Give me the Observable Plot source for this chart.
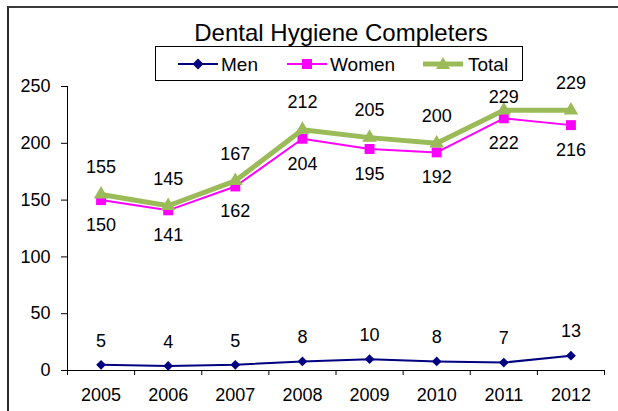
<!DOCTYPE html>
<html><head><meta charset="utf-8">
<script src="https://cdn.jsdelivr.net/npm/d3@7"></script>
<script src="https://cdn.jsdelivr.net/npm/@observablehq/plot@0.6"></script>
<style>
body{margin:0;overflow:hidden;background:#fff;font-family:"Liberation Sans",Arial,sans-serif;}
#wrap{position:relative;width:618px;height:411px;overflow:hidden;}
#border{position:absolute;left:7px;top:6px;width:700px;height:500px;border-left:2px solid #2a2a2a;border-top:2px solid #3a3a3a;box-sizing:border-box;}
#title{position:absolute;left:0;top:0;}
#legend{position:absolute;left:155px;top:46px;width:368px;height:35px;border:1px solid #000;box-sizing:border-box;background:#fff;}
#plot{position:absolute;left:0;top:0;}
</style>
</head><body>
<div id="wrap">
<div id="plot"></div>
<div id="border"></div>
<svg id="title" width="618" height="50"><text x="341" y="41" text-anchor="middle" font-size="24" font-family="Liberation Sans, Arial, sans-serif" fill="#000">Dental Hygiene Completers</text></svg>
<div id="legend"></div>
</div>
<script>
const years = [2005, 2006, 2007, 2008, 2009, 2010, 2011, 2012];
const men = [5, 4, 5, 8, 10, 8, 7, 13];
const women = [150, 141, 162, 204, 195, 192, 222, 216];
const total = [155, 145, 167, 212, 205, 200, 229, 229];
const yTicks = [0, 50, 100, 150, 200, 250];
const seriesNames = ["Men", "Women", "Total"];
const colors = {Men: "#000080", Women: "#FF00FF", Total: "#9BBB59"};

const rows = (vals) => years.map((yr, i) => ({year: yr, value: vals[i]}));
const menD = rows(men), womenD = rows(women), totalD = rows(total);
const bounds = years.map(y => y - 0.5).concat([years[years.length - 1] + 0.5]);
const font = "Liberation Sans, Arial, sans-serif";
// The 2011 total label sits lower in the reference to clear the legend box
const totalUnder = totalD.filter(d => d.year === 2011);
const totalRest = totalD.filter(d => d.year !== 2011);

const chart = Plot.plot({
  width: 618,
  height: 411,
  marginLeft: 67,
  marginRight: 14,
  marginTop: 86,
  marginBottom: 41,
  style: {fontFamily: font, background: "transparent", overflow: "visible"},
  x: {type: "linear", domain: [bounds[0], bounds[bounds.length - 1]], label: null},
  y: {domain: [0, 250], label: null},
  marks: [
    Plot.axisY({ticks: yTicks, tickSize: 6, tickPadding: 11, fontSize: 18, fill: "#000", stroke: "#000", tickFormat: d => String(d), label: null}),
    Plot.axisX({ticks: bounds, tickSize: 5, tickFormat: () => "", stroke: "#000", label: null}),
    Plot.axisX({ticks: years, tickSize: 0, tickPadding: 18, fontSize: 18, fill: "#000", tickFormat: d => String(d), label: null}),
    Plot.ruleY([0], {stroke: "#000"}),
    Plot.ruleX([bounds[0]], {y1: 0, y2: 250, stroke: "#000"}),
    Plot.line(womenD, {x: "year", y: "value", stroke: colors.Women, strokeWidth: 2}),
    Plot.dot(womenD, {x: "year", y: "value", symbol: "square", r: 5.6, fill: colors.Women}),
    Plot.line(totalD, {x: "year", y: "value", stroke: colors.Total, strokeWidth: 5}),
    Plot.dot(totalD, {x: "year", y: "value", symbol: "triangle", r: 5.4, fill: colors.Total}),
    Plot.line(menD, {x: "year", y: "value", stroke: colors.Men, strokeWidth: 2}),
    Plot.dot(menD, {x: "year", y: "value", symbol: "diamond2", r: 4.4, fill: colors.Men}),
    Plot.text(menD, {x: "year", y: "value", text: d => String(d.value), dy: -24, fontSize: 18, fill: "#000"}),
    Plot.text(womenD, {x: "year", y: "value", text: d => String(d.value), dy: 25, fontSize: 18, fill: "#000"}),
    Plot.text(totalRest, {x: "year", y: "value", text: d => String(d.value), dy: -27, fontSize: 18, fill: "#000"}),
    Plot.text(totalUnder, {x: "year", y: "value", text: d => String(d.value), dy: -13, fontSize: 18, fill: "#000"})
  ]
});
document.getElementById("plot").appendChild(chart);

// Legend
const ns = "http://www.w3.org/2000/svg";
const lg = document.createElementNS(ns, "svg");
lg.setAttribute("width", 366); lg.setAttribute("height", 33);
lg.style.position = "absolute"; lg.style.left = "0"; lg.style.top = "0";
const items = [
  {name: "Men", lx: 22, tx: 65, sym: "diamond", lw: 2},
  {name: "Women", lx: 131, tx: 174, sym: "square", lw: 2},
  {name: "Total", lx: 267, tx: 312, sym: "triangle", lw: 5}
];
const cy = 17;
items.forEach(it => {
  const c = colors[it.name];
  const ln = document.createElementNS(ns, "line");
  ln.setAttribute("x1", it.lx); ln.setAttribute("x2", it.lx + 40);
  ln.setAttribute("y1", cy); ln.setAttribute("y2", cy);
  ln.setAttribute("stroke", c); ln.setAttribute("stroke-width", it.lw);
  lg.appendChild(ln);
  const mx = it.lx + 20;
  const p = document.createElementNS(ns, "path");
  let d;
  if (it.sym === "diamond") d = `M${mx},${cy-5.5}L${mx+5.5},${cy}L${mx},${cy+5.5}L${mx-5.5},${cy}Z`;
  else if (it.sym === "square") d = `M${mx-5},${cy-5}h10v10h-10Z`;
  else d = `M${mx},${cy-7}L${mx+7},${cy+5}L${mx-7},${cy+5}Z`;
  p.setAttribute("d", d); p.setAttribute("fill", c);
  lg.appendChild(p);
  const t = document.createElementNS(ns, "text");
  t.setAttribute("x", it.tx); t.setAttribute("y", cy);
  t.setAttribute("dominant-baseline", "central");
  t.setAttribute("font-size", 19); t.setAttribute("font-family", font);
  t.textContent = it.name;
  lg.appendChild(t);
});
document.getElementById("legend").appendChild(lg);
</script>
</body></html>
